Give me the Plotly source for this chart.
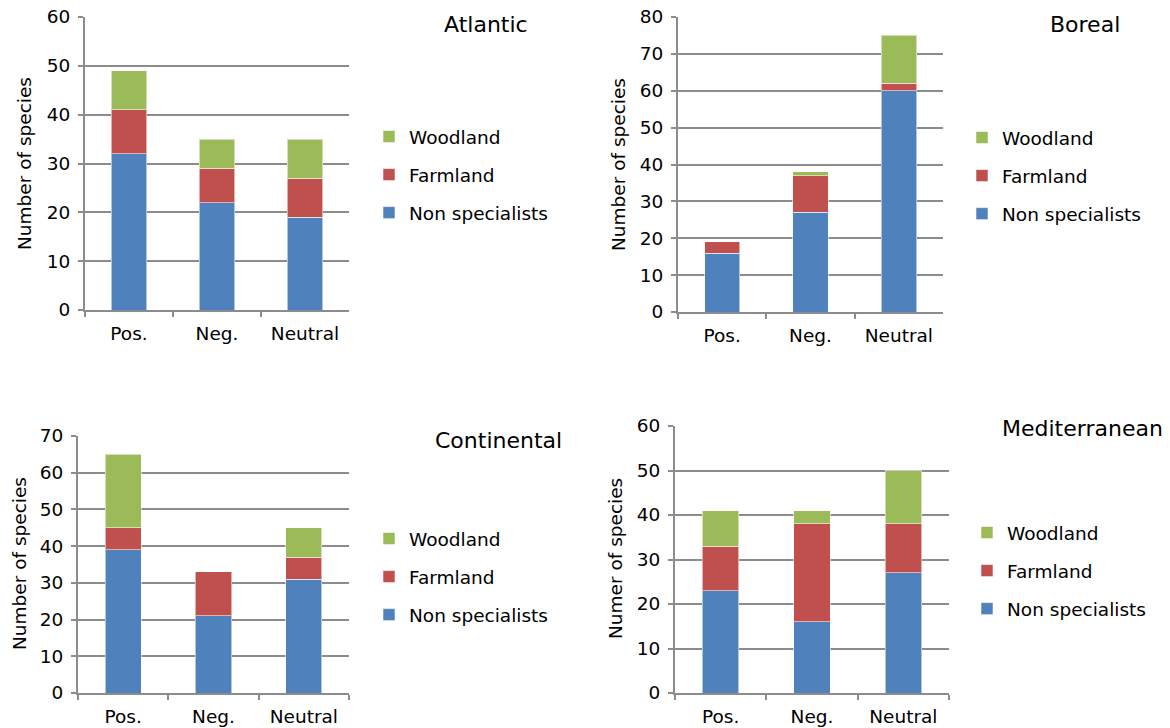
import plotly.graph_objects as go

categories = ["Pos.", "Neg.", "Neutral"]
series_names = ["Non specialists", "Farmland", "Woodland"]
colors = ["#4F81BD", "#C0504D", "#9BBB59"]

atlantic_non = [32, 22, 19]
atlantic_farm = [9, 7, 8]
atlantic_wood = [8, 6, 8]

boreal_non = [16, 27, 60]
boreal_farm = [3, 10, 2]
boreal_wood = [0, 1, 13]

continental_non = [39, 21, 31]
continental_farm = [6, 12, 6]
continental_wood = [20, 0, 8]

mediterranean_non = [23, 16, 27]
mediterranean_farm = [10, 22, 11]
mediterranean_wood = [8, 3, 12]

W, H = 1170, 728
def px(x): return x / W
def py(y): return 1 - y / H

panels = [
    dict(title="Atlantic", data=[atlantic_non, atlantic_farm, atlantic_wood], ymax=60,
         xd=(85, 349), yd=(17, 310), tpos=(486, 25), ytitle="Number of species", ypos=(25, 164),
         leg=(369, 175)),
    dict(title="Boreal", data=[boreal_non, boreal_farm, boreal_wood], ymax=80,
         xd=(678, 943), yd=(17, 312), tpos=(1085, 25), ytitle="Number of species", ypos=(619, 165),
         leg=(962, 176)),
    dict(title="Continental", data=[continental_non, continental_farm, continental_wood], ymax=70,
         xd=(78, 349), yd=(436, 693), tpos=(498, 440), ytitle="Number of species", ypos=(19, 564),
         leg=(369, 577)),
    dict(title="Mediterranean", data=[mediterranean_non, mediterranean_farm, mediterranean_wood], ymax=60,
         xd=(675, 949), yd=(426, 693), tpos=(1082, 428), ytitle="Numer of species", ypos=(615, 559),
         leg=(967, 571)),
]

FONT = "DejaVu Sans, Verdana, sans-serif"
GRID = "#8c8c8c"

fig = go.Figure()
layout = dict(
    width=W, height=H, margin=dict(l=0, r=0, t=0, b=0, autoexpand=False),
    paper_bgcolor="white", plot_bgcolor="white",
    barmode="stack", bargap=0.6,
    font=dict(family=FONT, size=18, color="#000000"),
    annotations=[],
)

ranks = [3, 2, 1]
for i, p in enumerate(panels):
    n = i + 1
    xa = "x" if n == 1 else f"x{n}"
    ya = "y" if n == 1 else f"y{n}"
    legname = "legend" if n == 1 else f"legend{n}"
    for s, (name, vals, col) in enumerate(zip(series_names, p["data"], colors)):
        fig.add_trace(go.Bar(
            x=categories, y=vals, name=name, xaxis=xa, yaxis=ya,
            marker=dict(color=col, line=dict(color="rgba(255,255,255,0.55)", width=1)),
            legend=legname, legendgroup=f"{n}_{s}", legendrank=ranks[s], showlegend=True,
        ))
    xkey = "xaxis" if n == 1 else f"xaxis{n}"
    ykey = "yaxis" if n == 1 else f"yaxis{n}"
    layout[xkey] = dict(
        domain=[px(p["xd"][0]), px(p["xd"][1])], anchor=ya, automargin=False,
        type="category", showgrid=False, showline=True, linecolor=GRID, linewidth=2,
        ticks="outside", tickson="boundaries", ticklen=5, tickcolor=GRID, tickwidth=2,
        tickfont=dict(size=18.5), ticklabelstandoff=6, zeroline=False,
    )
    layout[ykey] = dict(
        domain=[py(p["yd"][1]), py(p["yd"][0])], anchor=xa, automargin=False,
        range=[0, p["ymax"]], dtick=10, showgrid=True, gridcolor=GRID, gridwidth=2,
        showline=True, linecolor=GRID, linewidth=2,
        ticks="outside", ticklen=5, tickcolor=GRID, tickwidth=2,
        tickfont=dict(size=18.5), ticklabelstandoff=4, zeroline=False,
    )
    layout[legname] = dict(
        x=px(p["leg"][0]), y=py(p["leg"][1]), xanchor="left", yanchor="middle",
        traceorder="grouped", tracegroupgap=11, bgcolor="rgba(0,0,0,0)",
        font=dict(size=18.5, family=FONT), itemclick=False, itemdoubleclick=False,
    )
    layout["annotations"].append(dict(
        text=p["title"], x=px(p["tpos"][0]), y=py(p["tpos"][1]), xref="paper", yref="paper",
        xanchor="center", yanchor="middle", showarrow=False, font=dict(size=22, family=FONT),
    ))
    layout["annotations"].append(dict(
        text=p["ytitle"], x=px(p["ypos"][0]), y=py(p["ypos"][1]), xref="paper", yref="paper",
        xanchor="center", yanchor="middle", showarrow=False, textangle=-90,
        font=dict(size=18.5, family=FONT),
    ))

fig.update_layout(**layout)
fig.write_html("out.html")
